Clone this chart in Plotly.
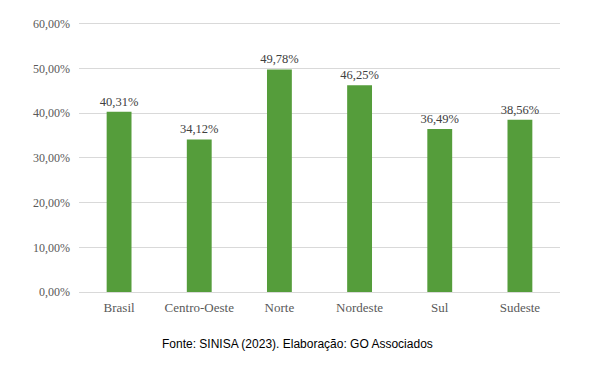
import plotly.graph_objects as go

categories = ["Brasil", "Centro-Oeste", "Norte", "Nordeste", "Sul", "Sudeste"]
values = [0.4031, 0.3412, 0.4978, 0.4625, 0.3649, 0.3856]
caption = "Fonte: SINISA (2023). Elaboração: GO Associados"

fig = go.Figure(go.Bar(
    x=categories, y=values,
    marker=dict(color="#559D3B", line=dict(width=0)),
    width=0.31,
    texttemplate="%{y:.2%}",
    textposition="outside",
    constraintext="none",
    textfont=dict(family="Liberation Serif", size=12.5, color="#404040"),
    cliponaxis=False,
))

# page body has an 8px margin, so the figure is shrunk by that amount
fig.update_layout(
    width=591, height=363,
    margin=dict(l=71, r=39, t=9, b=79),
    paper_bgcolor="white", plot_bgcolor="white",
    separators=",.",
    showlegend=False,
    font=dict(family="Liberation Serif", size=12, color="#595959"),
    xaxis=dict(showgrid=False, showline=False, ticks="", tickfont=dict(size=13, color="#595959")),
    yaxis=dict(range=[0, 0.604], tickvals=[0, 0.1, 0.2, 0.3, 0.4, 0.5, 0.6],
               tickformat=".2%", gridcolor="#D9D9D9",
               gridwidth=1, zeroline=True, zerolinecolor="#D9D9D9", zerolinewidth=1,
               showline=False, ticks="", ticklen=0, tickfont=dict(size=12, color="#595959")),
    annotations=[dict(text=caption, xref="paper", yref="paper", x=0.455, y=-0.192,
                      xanchor="center", yanchor="middle", showarrow=False,
                      font=dict(family="Liberation Sans", size=12, color="#000000"))],
)
fig.update_xaxes(ticklabelstandoff=6)
fig.update_yaxes(ticklabelstandoff=8)

fig.write_html("out.html")
